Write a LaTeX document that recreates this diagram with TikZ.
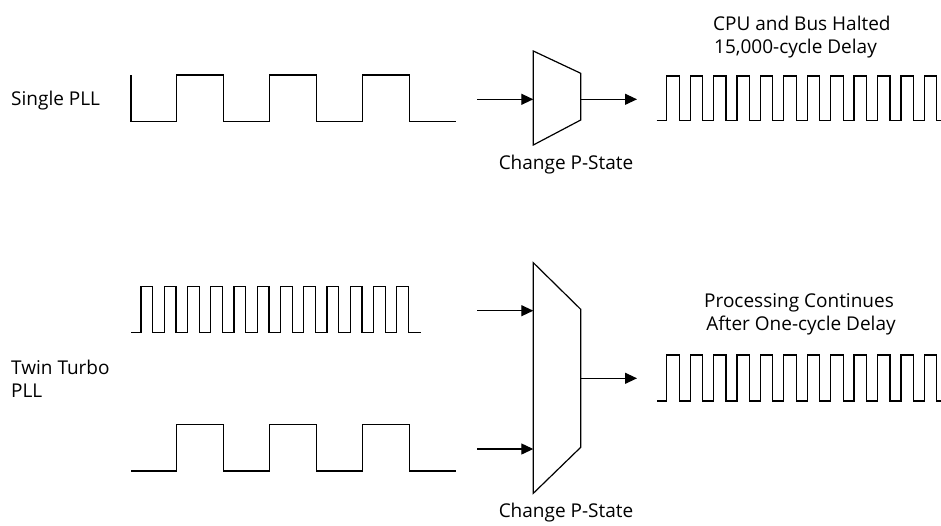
\documentclass[tikz,border=0pt]{standalone}
\usepackage{fontspec}
\setmainfont{Open Sans}
\usetikzlibrary{arrows.meta}
\tikzset{
  wave/.style={line width=1.2pt, line join=miter},
  muxbox/.style={line width=1.2pt, line join=miter},
  sig/.style={line width=1.2pt, -{Triangle[length=12pt,width=11pt]}},
  lbl/.style={font=\fontsize{19}{23}\selectfont, inner sep=0pt},
}
\begin{document}
\begin{tikzpicture}[x=1pt,y=-1pt]
\useasboundingbox (0,0) rectangle (941,525);

% ---------- labels on the left ----------
\node[lbl, anchor=base west] (single) at (11,105) {Single PLL};
\node[lbl, anchor=base west] (twinA) at (11,374) {Twin Turbo};
\node[lbl, anchor=base west] (twinB) at (11,397) {PLL};

% ---------- single PLL: slow clock ----------
\draw[wave] (131,75) -- (131,121.7)
  foreach \k in {0,1,2} {
    -- ({176.7+93*\k},121.7) -- ({176.7+93*\k},75)
    -- ({223.2+93*\k},75) -- ({223.2+93*\k},121.7)
  } -- (456,121.7);

% ---------- twin turbo PLL: fast clock ----------
\draw[wave] (131,332.7)
  foreach \k in {0,...,11} {
    -- ({141+23.25*\k},332.7) -- ({141+23.25*\k},286.7)
    -- ({152.7+23.25*\k},286.7) -- ({152.7+23.25*\k},332.7)
  } -- (421,332.7);

% ---------- twin turbo PLL: slow clock ----------
\draw[wave] (131,471)
  foreach \k in {0,1,2} {
    -- ({176.7+93*\k},471) -- ({176.7+93*\k},424.7)
    -- ({223.2+93*\k},424.7) -- ({223.2+93*\k},471)
  } -- (456,471);

% ---------- top multiplexer ----------
\draw[muxbox] (533.3,51) -- (580.7,73.3) -- (580.7,120) -- (533.3,145) -- cycle;
\coordinate (muxAin)  at (533.3,99.3);
\coordinate (muxAout) at (580.7,99.3);
\coordinate (srcA)    at (477.3,99.3);
\coordinate (dstA)    at (637,99.3);
\draw[sig] (srcA) -- (muxAin);
\draw[sig] (muxAout) -- (dstA);
\node[lbl, anchor=base] (pstateA) at (566,169) {Change P-State};

% ---------- bottom multiplexer ----------
\draw[muxbox] (533.3,262.7) -- (580.7,309.3) -- (580.7,447.3) -- (533.3,493.3) -- cycle;
\coordinate (muxBin1) at (533.3,310.7);
\coordinate (muxBin2) at (533.3,449);
\coordinate (muxBout) at (580.7,378.3);
\coordinate (srcB1)   at (477.3,310.7);
\coordinate (srcB2)   at (477.3,449);
\coordinate (dstB)    at (637,378.3);
\draw[sig] (srcB1) -- (muxBin1);
\draw[sig] (srcB2) -- (muxBin2);
\draw[sig] (muxBout) -- (dstB);
\node[lbl, anchor=base] (pstateB) at (566,517) {Change P-State};

% ---------- output clocks ----------
\draw[wave] (656.7,120.7)
  foreach \k in {0,...,11} {
    -- ({666.7+23.42*\k},120.7) -- ({666.7+23.42*\k},76)
    -- ({679.2+23.42*\k},76) -- ({679.2+23.42*\k},120.7)
  } -- (945,120.7);
\draw[wave] (657.3,401)
  foreach \k in {0,...,11} {
    -- ({666.7+23.42*\k},401) -- ({666.7+23.42*\k},355)
    -- ({679.2+23.42*\k},355) -- ({679.2+23.42*\k},401)
  } -- (945,401);

% ---------- notes on the right ----------
\node[lbl, anchor=base west] (haltedA) at (713,30) {CPU and Bus Halted};
\node[lbl, anchor=base west] (haltedB) at (714,53) {15,000-cycle Delay};
\node[lbl, anchor=base] (contA) at (799,307) {Processing Continues};
\node[lbl, anchor=base] (contB) at (801,330) {After One-cycle Delay};
\end{tikzpicture}
\end{document}
